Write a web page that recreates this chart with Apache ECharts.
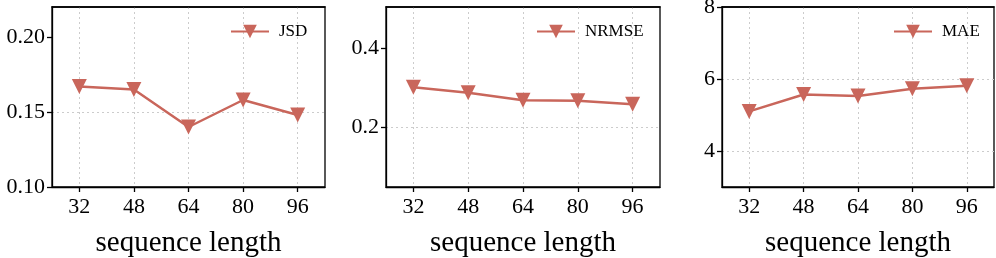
<!DOCTYPE html>
<html>
<head>
<meta charset="utf-8">
<script src="https://cdn.jsdelivr.net/npm/echarts@6/dist/echarts.min.js"></script>
<style>
html,body{margin:0;padding:0;background:#fff;}
#c{width:996px;height:258px;}
</style>
</head>
<body>
<div id="c"></div>
<script>
var seqLen = [32, 48, 64, 80, 96];
var jsd = [0.167, 0.165, 0.140, 0.158, 0.148];
var nrmse = [0.302, 0.288, 0.269, 0.268, 0.259];
var mae = [5.10, 5.57, 5.53, 5.73, 5.81];
var names = ['JSD', 'NRMSE', 'MAE'];
var yTicks = [[0.10, 0.15, 0.20], [0.2, 0.4], [4, 6, 8]];
var yRanges = [[0.10, 0.22], [0.05, 0.505], [3, 8]];
var xTickLabels = ['32', '48', '64', '80', '96'];
var xLabel = 'sequence length';

var series = [jsd, nrmse, mae];
var color = '#c9665b';
var font = 'Liberation Serif';
var grids = [
  {left: 52, width: 273, top: 7, height: 180},
  {left: 386, width: 274, top: 7, height: 180},
  {left: 722, width: 272, top: 7, height: 180}
];
var legendLeft = [225, 531, 888];

var xAxes = [];
names.forEach(function (n, i) {
  xAxes.push({
    type: 'value', gridIndex: i, min: 24, max: 104,
    name: xLabel, nameLocation: 'middle', nameGap: 42,
    nameTextStyle: {fontFamily: font, fontSize: 29, color: '#000'},
    axisLine: {show: true, onZero: false, lineStyle: {color: '#000', width: 1.3}},
    axisTick: {show: true, inside: false, length: 5, customValues: seqLen, lineStyle: {color: '#000', width: 1.3}},
    axisLabel: {customValues: seqLen, formatter: function (v) { return xTickLabels[seqLen.indexOf(v)]; },
      fontFamily: font, fontSize: 22, color: '#000', margin: 9},
    splitLine: {show: true, lineStyle: {color: '#cccccc', type: [2, 3], width: 1}}
  });
});
names.forEach(function (n, i) {
  xAxes.push({
    type: 'value', gridIndex: i, min: 24, max: 104, position: 'top', z: 10,
    axisLine: {show: true, onZero: false, lineStyle: {color: '#000', width: 1.5}},
    axisTick: {show: false}, axisLabel: {show: false}, splitLine: {show: false}
  });
});

var option = {
  animation: false,
  backgroundColor: '#fff',
  grid: grids.map(function (g) {
    return Object.assign({show: true, borderColor: '#000', borderWidth: 1.3, backgroundColor: 'transparent',
      containLabel: false, outerBoundsMode: 'none'}, g);
  }),
  legend: names.map(function (n, i) {
    return {
      data: [n], left: legendLeft[i], top: 18,
      itemWidth: 38, itemHeight: 17,
      textStyle: {fontFamily: font, fontSize: 17, color: '#000', padding: [0, 0, 0, 5]}
    };
  }),
  xAxis: xAxes,
  yAxis: names.map(function (n, i) {
    return {
      type: 'value', gridIndex: i, min: yRanges[i][0], max: yRanges[i][1],
      axisLine: {show: true, onZero: false, lineStyle: {color: '#000', width: 1.3}},
      axisTick: {show: true, inside: false, length: 5, customValues: yTicks[i], lineStyle: {color: '#000', width: 1.3}},
      axisLabel: {customValues: yTicks[i], formatter: function (v) { return i === 0 ? v.toFixed(2) : (i === 1 ? v.toFixed(1) : String(v)); },
        fontFamily: font, fontSize: 22, color: '#000', margin: 7},
      splitLine: {show: true, showMaxLine: false, lineStyle: {color: '#cccccc', type: [2, 3], width: 1}}
    };
  }),
  series: names.map(function (n, i) {
    return {
      name: n, type: 'line', xAxisIndex: i, yAxisIndex: i,
      data: seqLen.map(function (x, k) { return [x, series[i][k]]; }),
      symbol: 'triangle', symbolRotate: 180, symbolSize: 15, showSymbol: true,
      lineStyle: {color: color, width: 2.5},
      itemStyle: {color: color},
      z: 3
    };
  })
};
var chart = echarts.init(document.getElementById('c'), null, {renderer: 'canvas'});
chart.setOption(option);
</script>
</body>
</html>
